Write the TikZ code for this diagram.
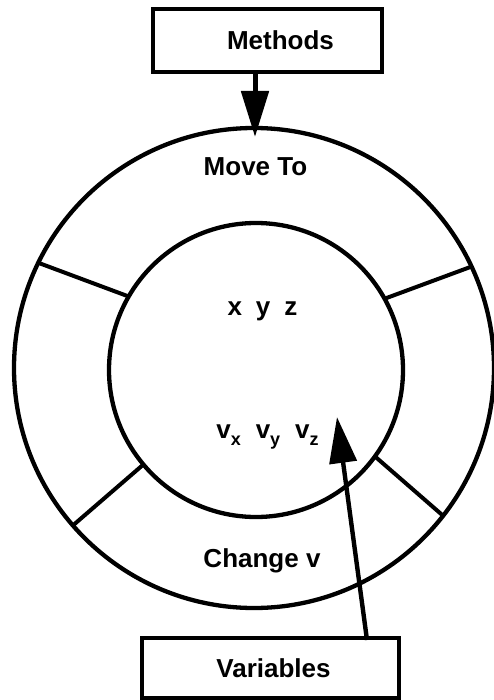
\documentclass[tikz,border=0pt]{standalone}
\usepackage{fontspec}
\setmainfont{Liberation Sans}
\usetikzlibrary{arrows.meta, positioning, calc}
\tikzset{
    % --- Labelled box (methods / variables) ---
    box/.style = {
        rectangle, draw, line width=4.3pt,
        inner sep=0pt, outer sep=0pt,
        font=\bfseries\fontsize{26}{31}\selectfont
    },
    % --- Ring of the object ---
    ring/.style = {
        circle, draw, line width=4.3pt,
        inner sep=0pt, outer sep=0pt
    },
    % --- Divider between method sectors ---
    divider/.style = {
        line width=4pt
    },
    % --- Text inside the rings ---
    label text/.style = {
        font=\bfseries\fontsize{26}{31}\selectfont,
        inner sep=0pt
    },
    % --- Big pointer arrow ---
    pointer/.style = {
        -{Triangle[length=46pt, width=27pt]}, line width=5pt
    }
}
\newcommand{\vsub}[1]{v\raisebox{-7pt}{\fontsize{18}{21}\selectfont #1}}

\begin{document}
\begin{tikzpicture}[x=1pt, y=-1pt]
\useasboundingbox (0,0) rectangle (493,700);

% ---------------------------------------------------------
% Rings
% ---------------------------------------------------------
\node[ring, minimum size=480pt] (outer) at (254,368) {};
\node[ring, minimum size=294pt] (inner) at (256,370) {};

% sector dividers (inner angle / outer angle)
\foreach \i/\o in {29/25, 150/154, 220.6/221.4, -36.5/-38}
    \draw[divider] (inner.\i) -- (outer.\o);

% ---------------------------------------------------------
% Texts in the rings
% ---------------------------------------------------------
\node[label text, anchor=base] (moveto) at (255.5,176) {Move To};
\node[label text, anchor=base] (pos) at (262.5,315) {x\hspace{14pt}y\hspace{14pt}z};
\node[label text, anchor=base] (vel) at (267.5,438)
    {\vsub{x}\hspace{15pt}\vsub{y}\hspace{15pt}\vsub{z}};
\node[label text, anchor=base] (change) at (262,567) {Change v};

% ---------------------------------------------------------
% Boxes
% ---------------------------------------------------------
\node[box, minimum width=229pt, minimum height=63pt] (methods) at (267.5,40.5)
    {\hspace*{26pt}Methods};
\node[box, minimum width=257pt, minimum height=60pt] (variables) at (270.5,668)
    {\hspace*{6pt}Variables};

% ---------------------------------------------------------
% Pointers
% ---------------------------------------------------------
\coordinate (mtail) at ($(methods.south)+(-12.5,0)$);
\draw[pointer] (mtail) -- ($(outer.north)+(1,9)$);

\coordinate (vtail) at ($(variables.north)+(96.5,2)$);
\coordinate (vtip) at (337,417);
\draw[pointer, line width=4.4pt] (vtail) -- (vtip);

\end{tikzpicture}
\end{document}
